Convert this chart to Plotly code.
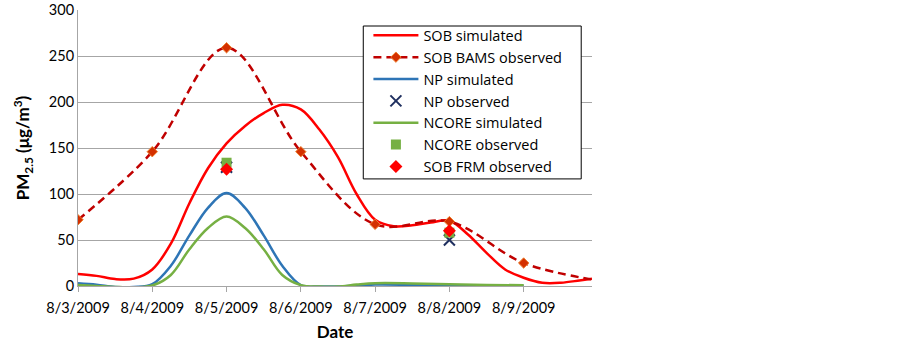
import plotly.graph_objects as go

# ---- data ----
tick_days = [0, 1, 2, 3, 4, 5, 6]
tick_labels = ["8/3/2009", "8/4/2009", "8/5/2009", "8/6/2009", "8/7/2009", "8/8/2009", "8/9/2009"]

sob_sim_days = [0, 0.25, 0.5, 0.75, 1.0, 1.25, 1.5, 1.75, 2.0, 2.25, 2.5, 2.75, 3.0, 3.25, 3.5, 3.75,
                4.0, 4.25, 4.5, 4.75, 5.0, 5.25, 5.5, 5.75, 6.0, 6.25, 6.5, 6.75, 6.92]
sob_sim = [13, 11, 7.5, 8, 18, 46, 90, 128, 155, 174, 188, 197, 192, 170, 140, 100,
           72, 65, 66, 69, 71, 56, 36, 18, 9, 3.5, 3.5, 6, 8]

bams_days = [0, 1, 2, 3, 4, 5, 6, 7]
bams_obs = [72, 146, 259, 146, 67, 70, 25, 6]

np_sim_days = [0, 0.25, 0.5, 0.75, 1.0, 1.25, 1.5, 1.75, 2.0, 2.25, 2.5, 2.75, 3.0, 3.25, 3.5, 4.0, 4.5, 5.0, 5.5, 6.0]
np_sim = [3, 1.5, -1, -1, 2, 22, 55, 85, 101, 85, 55, 22, 1, -0.5, -0.5, 1.5, 1.2, 0.8, 0.5, 0.4]

ncore_sim_days = [0, 0.25, 0.5, 0.75, 1.0, 1.25, 1.5, 1.75, 2.0, 2.25, 2.5, 2.75, 3.0, 3.25, 3.5, 3.75, 4.0, 4.5, 5.0, 5.5, 6.0]
ncore_sim = [1, 0, -1, -1.5, 0.5, 12, 40, 63, 75.5, 63, 40, 12, 1, -0.5, -0.5, 1.5, 3, 2.8, 2, 1.2, 0.8]

obs_days = [2, 5]
np_obs = [129, 50]
ncore_obs = [134, 58]
sob_frm_obs = [127, 60]

FONT = "Lato, 'Open Sans', sans-serif"

fig = go.Figure()
fig.add_trace(go.Scatter(x=sob_sim_days, y=sob_sim, name="SOB simulated", mode="lines",
                         line=dict(color="#FF0000", width=2.5, shape="spline")))
fig.add_trace(go.Scatter(x=bams_days, y=bams_obs, name="SOB BAMS observed", mode="lines+markers",
                         line=dict(color="#C00000", width=2.5, dash="8px,5px", shape="spline"),
                         marker=dict(symbol="diamond", size=8, color="#D43000",
                                     line=dict(color="#EE8030", width=1))))
fig.add_trace(go.Scatter(x=np_sim_days, y=np_sim, name="NP simulated", mode="lines",
                         line=dict(color="#2E75B6", width=2.5, shape="spline")))
fig.add_trace(go.Scatter(x=obs_days, y=np_obs, name="NP observed", mode="markers",
                         marker=dict(symbol="x-thin", size=11, color="#1F2F5F",
                                     line=dict(color="#1F2F5F", width=2))))
fig.add_trace(go.Scatter(x=ncore_sim_days, y=ncore_sim, name="NCORE simulated", mode="lines",
                         line=dict(color="#76B043", width=2.5, shape="spline")))
fig.add_trace(go.Scatter(x=obs_days, y=ncore_obs, name="NCORE observed", mode="markers",
                         marker=dict(symbol="square", size=10, color="#76B043")))
fig.add_trace(go.Scatter(x=obs_days, y=sob_frm_obs, name="SOB FRM observed", mode="markers",
                         marker=dict(symbol="diamond", size=10, color="#FF0000")))

# legend frame drawn as a shape so its size matches the original box
fig.add_shape(type="rect", xref="paper", yref="paper", x0=0.555, x1=0.979, y0=0.388, y1=0.942,
              line=dict(color="#000000", width=1), fillcolor="white", layer="above")

fig.update_layout(
    width=902, height=347,
    margin=dict(l=78, r=310, t=10, b=61, autoexpand=False),
    paper_bgcolor="white", plot_bgcolor="white",
    font=dict(family=FONT, size=14.5, color="#000000"),
    legend=dict(x=0.565, y=0.966, xanchor="left", yanchor="top",
                borderwidth=0, bgcolor="rgba(0,0,0,0)",
                font=dict(size=14.5, family="'Open Sans', Lato, sans-serif"),
                tracegroupgap=0, itemwidth=45),
    showlegend=True,
)
fig.update_xaxes(range=[0, 6.92], tickmode="array", tickvals=tick_days, ticktext=tick_labels,
                 showgrid=False, showline=True, linecolor="#A6A6A6", linewidth=1,
                 ticks="outside", ticklen=5, tickcolor="#A6A6A6", zeroline=False, automargin=False,
                 ticklabelstandoff=4, ticklabeloverflow="allow",
                 title=dict(text="<b>Date</b>", font=dict(size=17), standoff=10))
fig.update_yaxes(range=[0, 300], tickvals=[0, 50, 100, 150, 200, 250, 300],
                 showgrid=True, gridcolor="#A6A6A6", gridwidth=1, automargin=False,
                 showline=True, linecolor="#A6A6A6", linewidth=1, zeroline=False,
                 ticklabeloverflow="allow",
                 title=dict(text="<b>PM<sub>2.5</sub> (μg/m<sup>3</sup>)</b>", font=dict(size=17), standoff=14))

fig.write_html("out.html", config={"displayModeBar": False},
               post_script="document.body.style.margin='0';window.dispatchEvent(new Event('resize'));")
